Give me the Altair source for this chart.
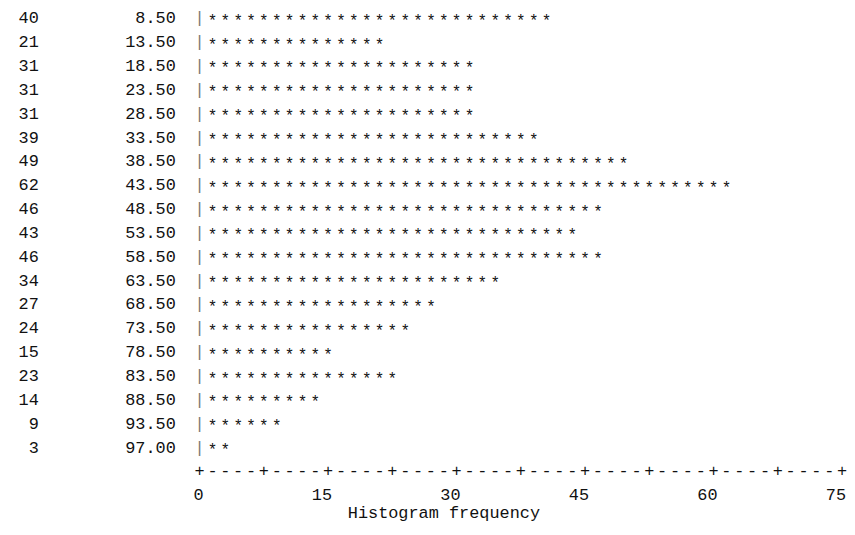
import altair as alt
import pandas as pd

# ---- data ----
counts = [40, 21, 31, 31, 31, 39, 49, 62, 46, 43, 46, 34, 27, 24, 15, 23, 14, 9, 3]
midpoints = ["8.50", "13.50", "18.50", "23.50", "28.50", "33.50", "38.50", "43.50",
             "48.50", "53.50", "58.50", "63.50", "68.50", "73.50", "78.50", "83.50",
             "88.50", "93.50", "97.00"]
tick_values = [0, 15, 30, 45, 60, 75]
axis_max = 75
star_unit = 1.5          # each '*' stands for 1.5 observations
x_title = "Histogram frequency"

FONT = "Liberation Mono"
FS = 17
INK = "#111111"

rows = pd.DataFrame({
    "row": list(range(len(counts))),
    "count_label": [str(c) for c in counts],
    "mid": midpoints,
})

stars = pd.DataFrame(
    [{"row": i, "x": j * star_unit}
     for i, c in enumerate(counts)
     for j in range(1, int(c / star_unit + 0.5) + 1)]
)

n_axis = int(axis_max / star_unit)
axis_chars = pd.DataFrame({
    "x": [j * star_unit for j in range(n_axis + 1)],
    "ch": ["+" if j % 5 == 0 else "-" for j in range(n_axis + 1)],
    "row": len(counts),
})
ticks = pd.DataFrame({
    "x": tick_values,
    "label": [str(t) for t in tick_values],
    "row": len(counts) + 1,
})
title_df = pd.DataFrame({"t": [x_title]})

xs = alt.Scale(domain=[-22.372, 75.577], nice=False, zero=False)
ys = alt.Scale(domain=[-0.3538, 21.249], nice=False, zero=False, reverse=True)

def X(field):
    return alt.X(field, type="quantitative", scale=xs, axis=None)

def Y():
    return alt.Y("row:Q", scale=ys, axis=None)

txt = dict(font=FONT, fontSize=FS, color=INK, baseline="middle")

count_layer = alt.Chart(rows).mark_text(align="right", **txt).encode(
    x=alt.value(31), y=Y(), text="count_label:N")
mid_layer = alt.Chart(rows).mark_text(align="right", **txt).encode(
    x=alt.value(169), y=Y(), text="mid:N")
bar_layer = alt.Chart(rows).mark_text(text="|", align="center", font=FONT, fontSize=FS,
                                      color="#777777", baseline="middle").encode(
    x=alt.X(datum=0, type="quantitative", scale=xs, axis=None), y=Y())
star_layer = alt.Chart(stars).mark_text(text="*", align="center", font=FONT, fontSize=16,
                                        color=INK, baseline="middle", dy=2.5).encode(
    x=X("x"), y=Y())
axis_layer = alt.Chart(axis_chars).mark_text(align="center", **txt).encode(
    x=X("x"), y=Y(), text="ch:N")
tick_layer = alt.Chart(ticks).mark_text(align="right", dx=4, **txt).encode(
    x=X("x"), y=Y(), text="label:N")
title_layer = alt.Chart(title_df).mark_text(align="center", **txt).encode(
    x=alt.value(439), y=alt.value(507), text="t:N")

chart = alt.layer(
    count_layer, mid_layer, bar_layer, star_layer, axis_layer, tick_layer, title_layer
).properties(
    width=845, height=519, padding=0, autosize="none", background="white"
).configure_view(stroke=None)

chart.save("out.html", embed_options={"renderer": "svg", "actions": False})
